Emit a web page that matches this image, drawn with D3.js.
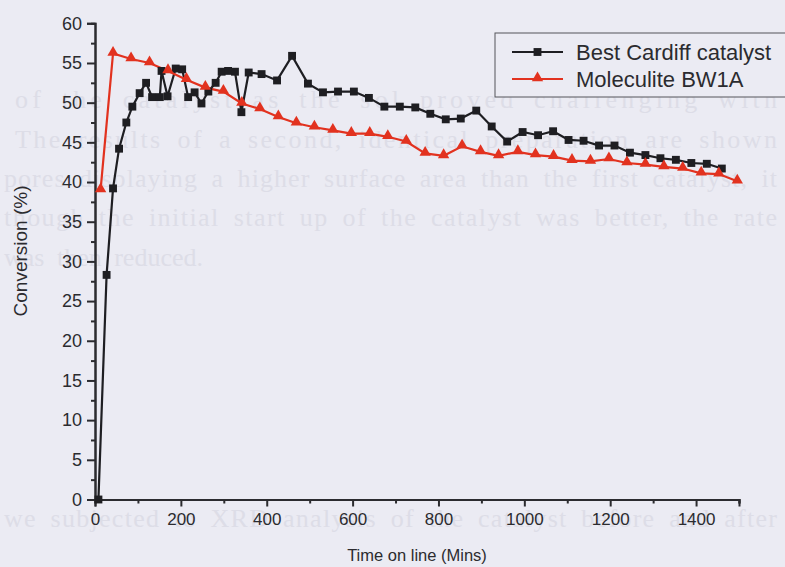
<!DOCTYPE html>
<html>
<head>
<meta charset="utf-8">
<script src="https://cdn.jsdelivr.net/npm/d3@7"></script>
<style>
  body { margin: 0; background: #ebebf3; }
  svg { display: block; }
  text { font-family: "Liberation Sans", Arial, sans-serif; }
</style>
</head>
<body>
<script>
var w = 785;
var h = 567;

// Best Cardiff catalyst
var cardiffTime = [8, 27, 42, 56, 73, 87, 104, 119, 133, 151, 155, 169, 188, 203, 217, 232, 248, 264, 281, 295,
  310, 326, 341, 358, 388, 424, 459, 496, 531, 566, 603, 638, 674, 710, 746, 781, 817, 852, 888, 924,
  960, 996, 1032, 1067, 1103, 1138, 1174, 1210, 1246, 1282, 1317, 1353, 1389, 1425, 1460];
var cardiffConv = [0, 28.3, 39.2, 44.2, 47.5, 49.5, 51.2, 52.5, 50.7, 50.7, 54.0, 50.8, 54.3, 54.2, 50.7, 51.3, 49.9, 51.4, 52.5, 53.9,
  54.0, 53.9, 48.8, 53.8, 53.6, 52.8, 55.9, 52.4, 51.3, 51.4, 51.4, 50.6, 49.5, 49.5, 49.4, 48.6, 47.9, 48.0, 49.0, 47.0,
  45.1, 46.3, 45.9, 46.4, 45.3, 45.2, 44.6, 44.6, 43.7, 43.4, 43.0, 42.8, 42.4, 42.3, 41.7];

// Moleculite BW1A
var molTime = [13, 42, 84, 127, 170, 213, 257, 299, 342, 384, 427, 469, 511, 554, 597, 640, 682, 725,
  769, 812, 855, 898, 940, 985, 1026, 1068, 1111, 1154, 1197, 1239, 1282, 1325, 1369, 1412, 1453, 1496];
var molConv = [39.0, 56.2, 55.5, 55.0, 54.0, 52.9, 51.9, 51.4, 49.9, 49.2, 48.2, 47.4, 46.9, 46.5, 46.1, 46.1, 45.7, 45.1,
  43.6, 43.3, 44.5, 43.8, 43.3, 43.8, 43.4, 43.2, 42.7, 42.6, 42.9, 42.4, 42.2, 41.9, 41.7, 41.1, 41.0, 40.1];

var xTicks = [0, 200, 400, 600, 800, 1000, 1200, 1400];
var yTicks = [0, 5, 10, 15, 20, 25, 30, 35, 40, 45, 50, 55, 60];
var seriesNames = ["Best Cardiff catalyst", "Moleculite BW1A"];

// faint text of the scanned page that shows through
var pageText = [
  "of the catalyst as the sol proved challenging with",
  "The results of a second, identical preparation are shown",
  "pores displaying a higher surface area than the first catalyst, it",
  "though the initial start up of the catalyst was better, the rate",
  "was then reduced.",
  "we subjected to XRD analysis of the catalyst before and after"
];

var xScale = d3.scaleLinear().domain([0, 1500]).range([95, 739]);
var yScale = d3.scaleLinear().domain([0, 60]).range([499.5, 23.3]);

var svg = d3.select("body")
  .append("svg")
  .attr("width", w)
  .attr("height", h);

svg.append("rect")
  .attr("width", w)
  .attr("height", h)
  .attr("fill", "#ebebf3");

var pageY = [108, 148, 187, 226, 266, 527];
var pageX = [15, 15, 4, 4, 4, 4];
svg.append("g")
  .selectAll("text")
  .data(pageText)
  .enter()
  .append("text")
  .attr("x", function(d, i) { return pageX[i]; })
  .attr("y", function(d, i) { return pageY[i]; })
  .attr("textLength", function(d, i) { return i == 4 ? null : w - 8 - pageX[i]; })
  .attr("lengthAdjust", "spacing")
  .style("font-family", "'Liberation Serif', serif")
  .style("font-size", "26px")
  .style("word-spacing", "6px")
  .attr("fill", "#dddde7")
  .text(function(d) { return d; });

// axes
var xAxis = d3.axisBottom(xScale).tickValues(xTicks).tickSize(7).tickPadding(6).tickFormat(d3.format("d"));
var xMinor = d3.axisBottom(xScale).tickValues(d3.range(100, 1600, 200)).tickSize(4).tickFormat("");
var yAxis = d3.axisLeft(yScale).tickValues(yTicks).tickSize(8).tickPadding(5).tickFormat(d3.format("d"));
var yMinor = d3.axisLeft(yScale).tickValues(d3.range(2.5, 60, 5)).tickSize(4).tickFormat("");

function styleAxis(g) {
  g.select(".domain").attr("stroke", "#2b2b2f").attr("stroke-width", 2);
  g.selectAll(".tick line").attr("stroke", "#2b2b2f").attr("stroke-width", 2);
  g.selectAll(".tick text")
    .attr("fill", "#2b2b2f")
    .style("font-family", "'Liberation Sans', Arial, sans-serif");
}

svg.append("g")
  .attr("transform", "translate(0," + yScale(0) + ")")
  .call(xMinor)
  .call(styleAxis);
svg.append("g")
  .attr("class", "x axis")
  .attr("transform", "translate(0," + yScale(0) + ")")
  .call(xAxis)
  .call(styleAxis)
  .selectAll(".tick text")
  .style("font-size", "17px");

svg.append("g")
  .attr("transform", "translate(" + xScale(0) + ",0)")
  .call(yMinor)
  .call(styleAxis);
svg.append("g")
  .attr("class", "y axis")
  .attr("transform", "translate(" + xScale(0) + ",0)")
  .call(yAxis)
  .call(styleAxis)
  .selectAll(".tick text")
  .style("font-size", "18px");

svg.append("text")
  .attr("x", 417)
  .attr("y", 561)
  .attr("text-anchor", "middle")
  .attr("fill", "#2b2b2f")
  .style("font-size", "16.5px")
  .text("Time on line (Mins)");

svg.append("text")
  .attr("transform", "translate(27,251) rotate(-90)")
  .attr("text-anchor", "middle")
  .attr("fill", "#2b2b2f")
  .style("font-size", "19px")
  .text("Conversion (%)");

// series
var cardiff = cardiffTime.map(function(t, i) { return [t, cardiffConv[i]]; });
var mol = molTime.map(function(t, i) { return [t, molConv[i]]; });

var line = d3.line()
  .x(function(d) { return xScale(d[0]); })
  .y(function(d) { return yScale(d[1]); });

var black = "#1e1e22";
var red = "#e2321f";
var square = d3.symbol().type(d3.symbolSquare).size(62);
var triangle = d3.symbol().type(d3.symbolTriangle).size(56);

svg.append("path")
  .datum(cardiff)
  .attr("d", line)
  .attr("fill", "none")
  .attr("stroke", black)
  .attr("stroke-width", 2.2);

svg.append("path")
  .datum(mol)
  .attr("d", line)
  .attr("fill", "none")
  .attr("stroke", red)
  .attr("stroke-width", 2.2);

svg.selectAll("path.sq")
  .data(cardiff)
  .enter()
  .append("path")
  .attr("class", "sq")
  .attr("d", square)
  .attr("transform", function(d) { return "translate(" + xScale(d[0]) + "," + yScale(d[1]) + ")"; })
  .attr("fill", black);

svg.selectAll("path.tri")
  .data(mol)
  .enter()
  .append("path")
  .attr("class", "tri")
  .attr("d", triangle)
  .attr("transform", function(d) { return "translate(" + xScale(d[0]) + "," + (yScale(d[1]) - 1) + ")"; })
  .attr("fill", red);

// legend
var legend = svg.append("g").attr("transform", "translate(495,33)");
legend.append("rect")
  .attr("width", 300)
  .attr("height", 64)
  .attr("fill", "#ebebf3")
  .attr("stroke", "#55555a")
  .attr("stroke-width", 1);

var items = legend.selectAll("g")
  .data(seriesNames)
  .enter()
  .append("g")
  .attr("transform", function(d, i) { return "translate(0," + (19 + i * 27) + ")"; });

items.append("line")
  .attr("x1", 17)
  .attr("x2", 68)
  .attr("stroke", function(d, i) { return i == 0 ? black : red; })
  .attr("stroke-width", 2.2);

items.append("path")
  .attr("d", function(d, i) { return i == 0 ? square() : triangle(); })
  .attr("transform", function(d, i) { return "translate(42.5," + (i == 0 ? 0 : -1) + ")"; })
  .attr("fill", function(d, i) { return i == 0 ? black : red; });

items.append("text")
  .attr("x", 81)
  .attr("y", 8)
  .attr("fill", "#2b2b2f")
  .style("font-size", "22px")
  .text(function(d) { return d; });
</script>
</body>
</html>
